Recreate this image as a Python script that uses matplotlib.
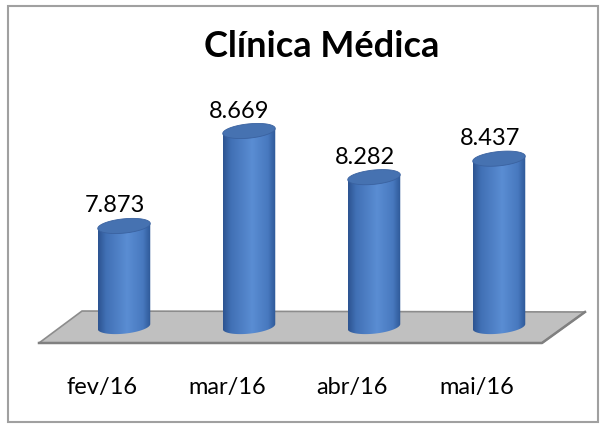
import numpy as np
import matplotlib.pyplot as plt
from matplotlib.patches import Polygon, Rectangle
from matplotlib.colors import LinearSegmentedColormap

plt.rcParams['font.family'] = ['Lato', 'DejaVu Sans']

title = "Clínica Médica"
months = ["fev/16", "mar/16", "abr/16", "mai/16"]
values = [7.873, 8.669, 8.282, 8.437]
value_labels = ["7.873", "8.669", "8.282", "8.437"]

BASE = 7.03      # value where the cylinders stand
BAR_W = 0.42     # cylinder width (category units)
CAP_H = 0.06     # half height of the end ellipses (value units)
TILT = 0.1       # small shear of the ellipses

cyl_cmap = LinearSegmentedColormap.from_list(
    "cyl", [(0.0, "#2c5390"), (0.15, "#4170b5"), (0.55, "#5a8dd3"),
            (0.85, "#4879bf"), (1.0, "#2d5796")])

fig = plt.figure(figsize=(6, 4.24), dpi=100)
ax = fig.add_axes([0, 0, 1, 1])
ax.axis('off')

# grey floor
floor = Polygon([(-0.336, 7.16), (3.688, 7.152), (3.344, 6.892), (-0.680, 6.892)],
                closed=True, fc='#c0c0c0', ec='#8c8c8c', lw=1.2, zorder=1)
ax.add_patch(floor)
ax.plot([-0.680, 3.344, 3.688], [6.892, 6.892, 7.152], color='#808080', lw=1.8, zorder=1)

grad = np.linspace(0, 1, 256).reshape(1, -1)
for i, v in enumerate(values):
    a = BAR_W / 2
    b = CAP_H
    t = np.linspace(np.pi, 2 * np.pi, 80)
    xs = i + a * np.cos(t)
    ys = BASE + b * np.sin(t) + TILT * (xs - i)
    pts = list(zip(xs, ys)) + [(i + a, v + TILT * a), (i - a, v - TILT * a)]
    body = Polygon(pts, closed=True, fill=False, ec='none', zorder=3)
    ax.add_patch(body)
    im = ax.imshow(grad, extent=(i - a, i + a, BASE - 0.2, v + 0.2), cmap=cyl_cmap,
                   aspect='auto', zorder=3, interpolation='bilinear')
    im.set_clip_path(body)

    t2 = np.linspace(0, 2 * np.pi, 120)
    xt = i + a * np.cos(t2)
    yt = v + b * np.sin(t2) + TILT * (xt - i)
    ax.add_patch(Polygon(list(zip(xt, yt)), closed=True, fc='#4672b1', ec='#3a62a0',
                         lw=0.6, zorder=4))

    ax.text(i - 0.075, v + 0.113, value_labels[i], ha='center', va='baseline',
            fontsize=17, color='black', zorder=5)

for i, m in enumerate(months):
    ax.text(i - 0.176, 6.465, m, ha='center', va='baseline', fontsize=17, color='black')

ax.set_xlim(-0.992, 3.808)
ax.set_ylim(6.213, 9.767)

fig.text(322 / 600, (424 - 57) / 424, title, ha='center', va='baseline',
         fontsize=26, fontweight='bold', color='black')

# chart border
fig.patches.append(Rectangle((8 / 600, 2 / 424), 590 / 600, 416 / 424,
                             transform=fig.transFigure, fill=False,
                             ec='#a0a0a0', lw=1.5))

fig.savefig('out.png', dpi=100)
